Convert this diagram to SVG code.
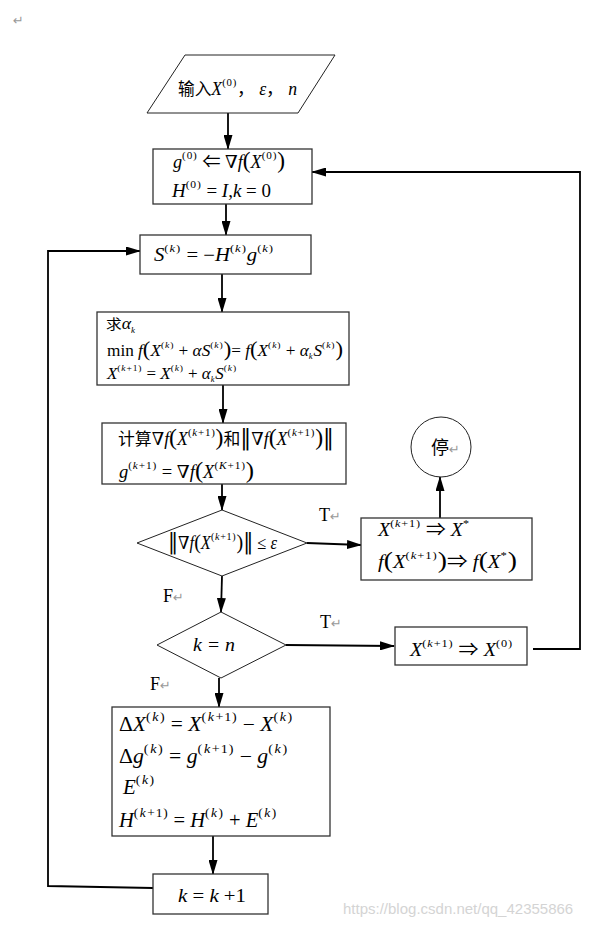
<svg xmlns="http://www.w3.org/2000/svg" width="595" height="927" viewBox="0 0 595 927">
<style>
.bg{fill:#fff}
.box{fill:#fff;stroke:#333;stroke-width:1.3}
.shape{fill:#fff;stroke:#222;stroke-width:1}
.m{font-family:"Liberation Serif","Noto Sans CJK SC",serif;font-size:18px;fill:#000}
.i{font-style:italic}
.s{font-size:11px;letter-spacing:0.8px}
.sy{font-family:"DejaVu Serif",serif;font-style:normal}
.cn{font-family:"Noto Sans CJK SC",serif;font-size:16px}
.ret{font-family:"DejaVu Sans",sans-serif;font-size:13px;fill:#999}
.lbl{font-family:"Liberation Serif",serif;font-size:18px;fill:#000}
.wm{font-family:"Liberation Sans",sans-serif;font-size:15px;fill:#d4d4d4}
.ln{fill:none;stroke:#000;stroke-width:1.8}
</style>
<defs>
<marker id="ah" markerWidth="15" markerHeight="9" refX="14" refY="4.5" orient="auto" markerUnits="userSpaceOnUse">
<path d="M0,0 L15,4.5 L0,9 Z" fill="#000"/>
</marker>
</defs>
<rect class="bg" width="595" height="927"/>
<text class="ret" x="13" y="25">↵</text>

<g id="connectors">
<path class="ln" d="M228,113 L228,149" marker-end="url(#ah)"/>
<path class="ln" d="M226,204 L226,235" marker-end="url(#ah)"/>
<path class="ln" d="M222,274 L222,312" marker-end="url(#ah)"/>
<path class="ln" d="M223,385 L223,423" marker-end="url(#ah)"/>
<path class="ln" d="M222,484 L222,510" marker-end="url(#ah)"/>
<path class="ln" d="M307,543 L361,545" marker-end="url(#ah)"/>
<path class="ln" d="M440,518 L440,477" marker-end="url(#ah)"/>
<path class="ln" d="M222,576 L221,612" marker-end="url(#ah)"/>
<path class="ln" d="M286,645 L394,646" marker-end="url(#ah)"/>
<path class="ln" d="M219,678 L219,707" marker-end="url(#ah)"/>
<path class="ln" d="M213,836 L213,874" marker-end="url(#ah)"/>
<path class="ln" d="M153,888 L48,886 L48,251 L140,251" marker-end="url(#ah)"/>
<path class="ln" d="M533,649 L580,649 L580,172 L312,172" marker-end="url(#ah)"/>
</g>

<g id="input">
<polygon class="shape" points="185,55 335,55 298,113 147,113"/>
<text class="m" x="178" y="95" textLength="119" lengthAdjust="spacingAndGlyphs"><tspan class="cn" style="font-size:17px">输入</tspan><tspan class="i">X</tspan><tspan class="s" dy="-9">(0)</tspan><tspan dy="9">， </tspan><tspan class="i">ε</tspan>， <tspan class="i">n</tspan></text>
</g>

<g id="init">
<rect class="box" x="153" y="149" width="159" height="55"/>
<text class="m" x="173" y="168" textLength="112" lengthAdjust="spacingAndGlyphs"><tspan class="i">g</tspan><tspan class="s" dy="-9">(0)</tspan><tspan dy="9"> ⇐ </tspan><tspan class="sy">∇</tspan><tspan class="i">f</tspan><tspan style="font-size:23px">(</tspan><tspan class="i">X</tspan><tspan class="s" dy="-9">(0)</tspan><tspan dy="9" style="font-size:23px">)</tspan></text>
<text class="m" x="172" y="197" textLength="99" lengthAdjust="spacingAndGlyphs"><tspan class="i">H</tspan><tspan class="s" dy="-9">(0)</tspan><tspan dy="9"> = </tspan><tspan class="i">I</tspan>,<tspan class="i">k</tspan> = 0</text>
</g>

<g id="direction">
<rect class="box" x="140" y="235" width="171" height="39"/>
<text class="m" x="154" y="261" textLength="120" lengthAdjust="spacingAndGlyphs"><tspan class="i">S</tspan><tspan class="s" dy="-9">(</tspan><tspan class="s i">k</tspan><tspan class="s">)</tspan><tspan dy="9"> = −</tspan><tspan class="i">H</tspan><tspan class="s" dy="-9">(</tspan><tspan class="s i">k</tspan><tspan class="s">)</tspan><tspan class="i" dy="9">g</tspan><tspan class="s" dy="-9">(</tspan><tspan class="s i">k</tspan><tspan class="s">)</tspan></text>
</g>

<g id="linesearch">
<rect class="box" x="97" y="312" width="252" height="73"/>
<text class="m" x="106" y="329" style="font-size:16px" textLength="30" lengthAdjust="spacingAndGlyphs"><tspan class="cn" style="font-size:14px">求</tspan><tspan class="i">α</tspan><tspan class="s i" dy="4" style="font-size:8px">k</tspan></text>
<text class="m" x="107" y="356" style="font-size:16px" textLength="236" lengthAdjust="spacingAndGlyphs">min <tspan class="i">f</tspan><tspan style="font-size:21px">(</tspan><tspan class="i">X</tspan><tspan class="s" dy="-8" style="font-size:9px">(</tspan><tspan class="s i" style="font-size:9px">k</tspan><tspan class="s" style="font-size:9px">)</tspan><tspan dy="8"> + </tspan><tspan class="i">αS</tspan><tspan class="s" dy="-8" style="font-size:9px">(</tspan><tspan class="s i" style="font-size:9px">k</tspan><tspan class="s" style="font-size:9px">)</tspan><tspan dy="8" style="font-size:21px">)</tspan>= <tspan class="i">f</tspan><tspan style="font-size:21px">(</tspan><tspan class="i">X</tspan><tspan class="s" dy="-8" style="font-size:9px">(</tspan><tspan class="s i" style="font-size:9px">k</tspan><tspan class="s" style="font-size:9px">)</tspan><tspan dy="8"> + </tspan><tspan class="i">α</tspan><tspan class="s i" dy="3" style="font-size:8px">k</tspan><tspan class="i" dy="-3">S</tspan><tspan class="s" dy="-8" style="font-size:9px">(</tspan><tspan class="s i" style="font-size:9px">k</tspan><tspan class="s" style="font-size:9px">)</tspan><tspan dy="8" style="font-size:21px">)</tspan></text>
<text class="m" x="107" y="379" style="font-size:16px" textLength="130" lengthAdjust="spacingAndGlyphs"><tspan class="i">X</tspan><tspan class="s" dy="-8" style="font-size:9px">(</tspan><tspan class="s i" style="font-size:9px">k</tspan><tspan class="s" style="font-size:9px">+1)</tspan><tspan dy="8"> = </tspan><tspan class="i">X</tspan><tspan class="s" dy="-8" style="font-size:9px">(</tspan><tspan class="s i" style="font-size:9px">k</tspan><tspan class="s" style="font-size:9px">)</tspan><tspan dy="8"> + </tspan><tspan class="i">α</tspan><tspan class="s i" dy="3" style="font-size:8px">k</tspan><tspan class="i" dy="-3">S</tspan><tspan class="s" dy="-8" style="font-size:9px">(</tspan><tspan class="s i" style="font-size:9px">k</tspan><tspan class="s" style="font-size:9px">)</tspan></text>
</g>

<g id="gradient">
<rect class="box" x="102" y="423" width="244" height="61"/>
<text class="m" x="118" y="445" textLength="216" lengthAdjust="spacingAndGlyphs"><tspan class="cn" style="font-size:17px">计算</tspan><tspan class="sy">∇</tspan><tspan class="i">f</tspan><tspan style="font-size:24px">(</tspan><tspan class="i">X</tspan><tspan class="s" dy="-9">(</tspan><tspan class="s i">k</tspan><tspan class="s">+1)</tspan><tspan dy="9" style="font-size:24px">)</tspan><tspan class="cn" style="font-size:17px">和</tspan><tspan class="sy" style="font-size:22px">‖</tspan><tspan class="sy">∇</tspan><tspan class="i">f</tspan><tspan style="font-size:24px">(</tspan><tspan class="i">X</tspan><tspan class="s" dy="-9">(</tspan><tspan class="s i">k</tspan><tspan class="s">+1)</tspan><tspan dy="9" style="font-size:24px">)</tspan><tspan class="sy" style="font-size:22px">‖</tspan></text>
<text class="m" x="119" y="478" textLength="135" lengthAdjust="spacingAndGlyphs"><tspan class="i">g</tspan><tspan class="s" dy="-9">(</tspan><tspan class="s i">k</tspan><tspan class="s">+1)</tspan><tspan dy="9"> = </tspan><tspan class="sy">∇</tspan><tspan class="i">f</tspan><tspan style="font-size:24px">(</tspan><tspan class="i">X</tspan><tspan class="s" dy="-9">(</tspan><tspan class="s i">K</tspan><tspan class="s">+1)</tspan><tspan dy="9" style="font-size:24px">)</tspan></text>
</g>

<g id="check">
<polygon class="shape" points="222,510 307,543 222,576 137,543"/>
<text class="m" x="168" y="549" textLength="109" lengthAdjust="spacingAndGlyphs"><tspan class="sy" style="font-size:22px">‖</tspan><tspan class="sy">∇</tspan><tspan class="i">f</tspan><tspan style="font-size:22px">(</tspan><tspan class="i">X</tspan><tspan class="s" dy="-9">(</tspan><tspan class="s i">k</tspan><tspan class="s">+1)</tspan><tspan dy="9" style="font-size:22px">)</tspan><tspan class="sy" style="font-size:22px">‖</tspan> ≤ <tspan class="i">ε</tspan></text>
</g>

<g id="labels">
<text class="lbl" x="319" y="521">T<tspan class="ret">↵</tspan></text>
<text class="lbl" x="163" y="602">F<tspan class="ret">↵</tspan></text>
<text class="lbl" x="320" y="628">T<tspan class="ret">↵</tspan></text>
<text class="lbl" x="150" y="690">F<tspan class="ret">↵</tspan></text>
</g>

<g id="result">
<rect class="box" x="361" y="518" width="171" height="62"/>
<text class="m" x="378" y="536" textLength="92" lengthAdjust="spacingAndGlyphs"><tspan class="i">X</tspan><tspan class="s" dy="-9">(</tspan><tspan class="s i">k</tspan><tspan class="s">+1)</tspan><tspan dy="9"> ⇒ </tspan><tspan class="i">X</tspan><tspan class="s" dy="-9">*</tspan></text>
<text class="m" x="378" y="568" textLength="139" lengthAdjust="spacingAndGlyphs"><tspan class="i">f</tspan><tspan style="font-size:24px">(</tspan><tspan class="i">X</tspan><tspan class="s" dy="-9">(</tspan><tspan class="s i">k</tspan><tspan class="s">+1)</tspan><tspan dy="9" style="font-size:24px">)</tspan>⇒ <tspan class="i">f</tspan><tspan style="font-size:24px">(</tspan><tspan class="i">X</tspan><tspan class="s" dy="-9">*</tspan><tspan dy="9" style="font-size:24px">)</tspan></text>
</g>

<g id="stop">
<circle class="shape" cx="441" cy="447" r="30"/>
<text class="m" x="431" y="454"><tspan class="cn" style="font-size:18px">停</tspan><tspan class="ret">↵</tspan></text>
</g>

<g id="iter">
<polygon class="shape" points="221,612 286,645 221,678 157,645"/>
<text class="m i" x="193" y="651" textLength="42" lengthAdjust="spacingAndGlyphs">k = n</text>
</g>

<g id="reset">
<rect class="box" x="395" y="627" width="132" height="38"/>
<text class="m" x="410" y="656" textLength="103" lengthAdjust="spacingAndGlyphs"><tspan class="i">X</tspan><tspan class="s" dy="-9">(</tspan><tspan class="s i">k</tspan><tspan class="s">+1)</tspan><tspan dy="9"> ⇒ </tspan><tspan class="i">X</tspan><tspan class="s" dy="-9">(0)</tspan></text>
</g>

<g id="update">
<rect class="box" x="112" y="707" width="218" height="129"/>
<text class="m" x="119" y="731" style="font-size:20px" textLength="174" lengthAdjust="spacingAndGlyphs">Δ<tspan class="i">X</tspan><tspan class="s" dy="-10" style="font-size:13px;letter-spacing:1.5px">(</tspan><tspan class="s i" style="font-size:13px;letter-spacing:1.5px">k</tspan><tspan class="s" style="font-size:13px">)</tspan><tspan dy="10"> = </tspan><tspan class="i">X</tspan><tspan class="s" dy="-10" style="font-size:13px;letter-spacing:1.5px">(</tspan><tspan class="s i" style="font-size:13px;letter-spacing:1.5px">k</tspan><tspan class="s" style="font-size:13px">+1)</tspan><tspan dy="10"> − </tspan><tspan class="i">X</tspan><tspan class="s" dy="-10" style="font-size:13px;letter-spacing:1.5px">(</tspan><tspan class="s i" style="font-size:13px;letter-spacing:1.5px">k</tspan><tspan class="s" style="font-size:13px">)</tspan></text>
<text class="m" x="119" y="763" style="font-size:20px" textLength="169" lengthAdjust="spacingAndGlyphs">Δ<tspan class="i">g</tspan><tspan class="s" dy="-10" style="font-size:13px;letter-spacing:1.5px">(</tspan><tspan class="s i" style="font-size:13px;letter-spacing:1.5px">k</tspan><tspan class="s" style="font-size:13px">)</tspan><tspan dy="10"> = </tspan><tspan class="i">g</tspan><tspan class="s" dy="-10" style="font-size:13px;letter-spacing:1.5px">(</tspan><tspan class="s i" style="font-size:13px;letter-spacing:1.5px">k</tspan><tspan class="s" style="font-size:13px">+1)</tspan><tspan dy="10"> − </tspan><tspan class="i">g</tspan><tspan class="s" dy="-10" style="font-size:13px;letter-spacing:1.5px">(</tspan><tspan class="s i" style="font-size:13px;letter-spacing:1.5px">k</tspan><tspan class="s" style="font-size:13px">)</tspan></text>
<text class="m" x="123" y="794" style="font-size:20px" textLength="32" lengthAdjust="spacingAndGlyphs"><tspan class="i">E</tspan><tspan class="s" dy="-10" style="font-size:13px;letter-spacing:1.5px">(</tspan><tspan class="s i" style="font-size:13px;letter-spacing:1.5px">k</tspan><tspan class="s" style="font-size:13px">)</tspan></text>
<text class="m" x="119" y="827" style="font-size:20px" textLength="158" lengthAdjust="spacingAndGlyphs"><tspan class="i">H</tspan><tspan class="s" dy="-10" style="font-size:13px;letter-spacing:1.5px">(</tspan><tspan class="s i" style="font-size:13px;letter-spacing:1.5px">k</tspan><tspan class="s" style="font-size:13px">+1)</tspan><tspan dy="10"> = </tspan><tspan class="i">H</tspan><tspan class="s" dy="-10" style="font-size:13px;letter-spacing:1.5px">(</tspan><tspan class="s i" style="font-size:13px;letter-spacing:1.5px">k</tspan><tspan class="s" style="font-size:13px">)</tspan><tspan dy="10"> + </tspan><tspan class="i">E</tspan><tspan class="s" dy="-10" style="font-size:13px;letter-spacing:1.5px">(</tspan><tspan class="s i" style="font-size:13px;letter-spacing:1.5px">k</tspan><tspan class="s" style="font-size:13px">)</tspan></text>
</g>

<g id="increment">
<rect class="box" x="153" y="874" width="115" height="40"/>
<text class="m" x="178" y="902" textLength="68" lengthAdjust="spacingAndGlyphs"><tspan class="i">k</tspan> = <tspan class="i">k</tspan> +1</text>
</g>

<text class="wm" x="343" y="914">https://blog.csdn.net/qq_42355866</text>
</svg>
